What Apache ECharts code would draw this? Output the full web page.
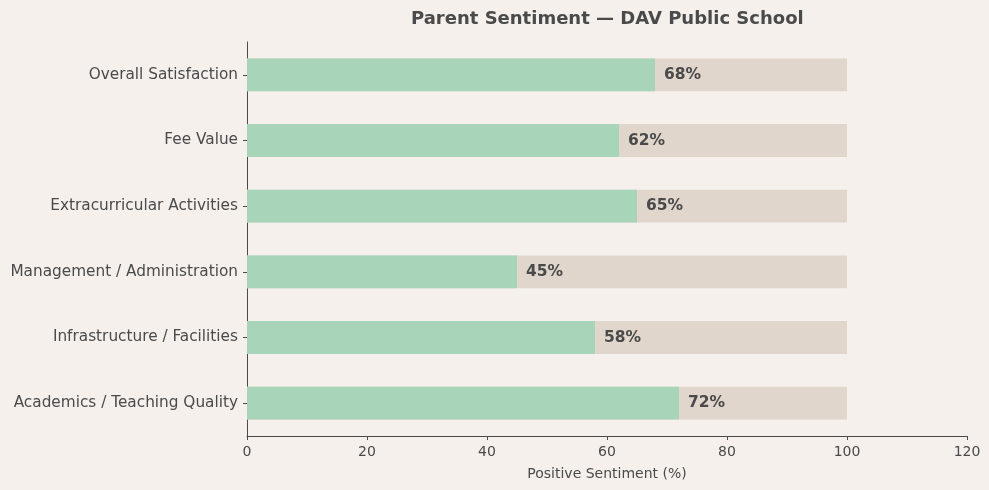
<!DOCTYPE html>
<html>
<head>
<meta charset="utf-8">
<script src="https://cdn.jsdelivr.net/npm/echarts@6/dist/echarts.min.js"></script>
<style>
  html, body { margin: 0; padding: 0; background: #f5f0ec; }
  #chart { width: 989px; height: 490px; }
</style>
</head>
<body>
<div id="chart"></div>
<script>
// categories from bottom to top
const categories = [
  "Academics / Teaching Quality",
  "Infrastructure / Facilities",
  "Management / Administration",
  "Extracurricular Activities",
  "Fee Value",
  "Overall Satisfaction"
];
const positive = [72, 58, 45, 65, 62, 68];
const track = [100, 100, 100, 100, 100, 100];

const textColor = "#4a4a4a";
const font = "DejaVu Sans";

let myChart = echarts.init(document.getElementById("chart"));
myChart.setOption({
  backgroundColor: "#f5f0ec",
  animation: false,
  title: {
    text: "Parent Sentiment — DAV Public School",
    left: 406,
    top: 5,
    textStyle: {
      color: textColor,
      fontFamily: font,
      fontSize: 18,
      fontWeight: "bold",
    },
  },
  grid: {
    left: 247,
    right: 22,
    top: 42,
    bottom: 54,
  },
  xAxis: {
    type: "value",
    min: 0,
    max: 120,
    interval: 20,
    name: "Positive Sentiment (%)",
    nameLocation: "middle",
    nameGap: 31,
    nameTextStyle: { color: textColor, fontFamily: font, fontSize: 14 },
    axisLine: { show: true, lineStyle: { color: textColor, width: 1 } },
    axisTick: { show: true, length: 4, lineStyle: { color: textColor } },
    axisLabel: { color: textColor, fontFamily: font, fontSize: 14, margin: 9 },
    splitLine: { show: false },
  },
  yAxis: {
    type: "category",
    data: categories,
    axisLine: { show: true, lineStyle: { color: textColor, width: 1 } },
    axisTick: { show: true, alignWithLabel: true, length: 4, lineStyle: { color: textColor } },
    axisLabel: { color: textColor, fontFamily: font, fontSize: 15.3, margin: 9 },
  },
  series: [
    {
      type: "bar",
      data: track,
      barWidth: "50%",
      barGap: "-100%",
      itemStyle: { color: "#e0d6cc" },
      silent: true,
      z: 1,
    },
    {
      type: "bar",
      data: positive,
      barWidth: "50%",
      itemStyle: { color: "#a8d5b9" },
      z: 2,
      label: {
        show: true,
        position: "right",
        distance: 9,
        formatter: "{c}%",
        color: textColor,
        fontFamily: font,
        fontSize: 15.5,
        fontWeight: "bold",
      },
    },
  ],
});
</script>
</body>
</html>
